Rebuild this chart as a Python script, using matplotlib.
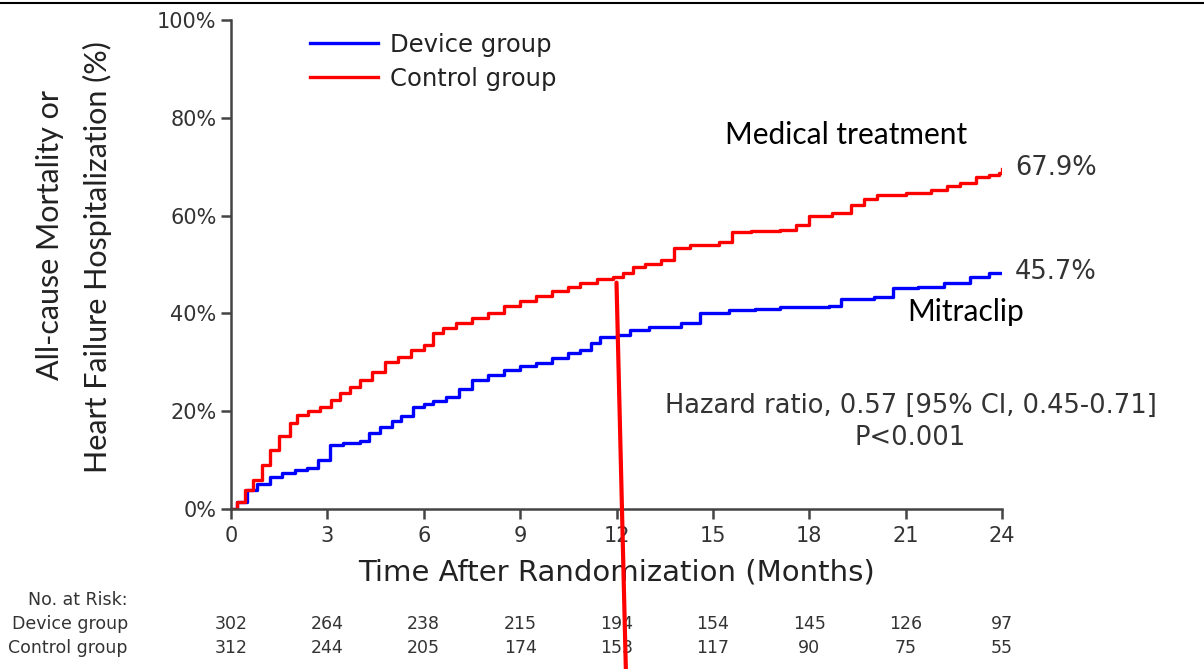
import matplotlib.pyplot as plt
import matplotlib.transforms as mtransforms
from matplotlib.lines import Line2D

# Kaplan-Meier style cumulative incidence (%)
control_t = [0, 0.2, 0.44, 0.7, 0.97, 1.21, 1.5, 1.84, 2.05, 2.4, 2.77, 3.1, 3.4, 3.7, 4.0,
             4.4, 4.8, 5.2, 5.6, 6.0, 6.3, 6.6, 7.0, 7.5, 8.0, 8.5, 9.0, 9.5, 10.0, 10.5,
             10.87, 11.4, 11.9, 12.2, 12.5, 12.9, 13.4, 13.8, 14.3, 15.2, 15.6, 16.2, 17.1,
             17.6, 18.0, 18.7, 19.3, 19.7, 20.1, 21.0, 21.8, 22.3, 22.7, 23.2, 23.6, 23.9, 24.0]
control_y = [0, 1.5, 3.9, 6, 9, 12, 15, 17.6, 19.2, 20, 20.9, 22.3, 23.7, 25, 26.4,
             28, 30, 31, 32.5, 33.5, 36, 37, 38, 39, 40, 41.5, 42.5, 43.5, 44.5, 45.3,
             46.2, 47, 47.4, 48.3, 49.5, 50.2, 51, 53.4, 54, 54.6, 56.6, 56.8, 57,
             58, 60, 60.5, 62.2, 63.4, 64.2, 64.6, 65.2, 66, 66.7, 67.9, 68.3, 68.7, 69.5]

device_t = [0, 0.2, 0.5, 0.8, 1.21, 1.6, 2.0, 2.37, 2.7, 3.08, 3.5, 4.0, 4.3, 4.64, 5.0,
            5.3, 5.67, 6.0, 6.3, 6.7, 7.1, 7.5, 8.0, 8.5, 9.0, 9.5, 10.0, 10.5, 10.87,
            11.2, 11.5, 12.0, 12.43, 13.0, 14.0, 14.6, 15.5, 16.3, 17.1, 18.0, 18.6, 19.0,
            20.0, 20.6, 21.4, 22.2, 23.0, 23.6, 24.0]
device_y = [0, 1.5, 3.9, 5.2, 6.5, 7.3, 7.9, 8.4, 10, 13, 13.5, 14, 15.5, 16.8, 18,
            19, 20.9, 21.5, 22, 22.9, 24.5, 26.4, 27.5, 28.4, 29.2, 29.8, 30.8, 32, 32.5,
            34, 35.2, 35.6, 36.6, 37.2, 38, 40, 40.7, 41, 41.3, 41.4, 41.5, 43,
            43.4, 45.2, 45.5, 46.2, 47.4, 48.3, 48.3]

risk_months = [0, 3, 6, 9, 12, 15, 18, 21, 24]
risk_device = [302, 264, 238, 215, 194, 154, 145, 126, 97]
risk_control = [312, 244, 205, 174, 153, 117, 90, 75, 55]

x_ticks = [0, 3, 6, 9, 12, 15, 18, 21, 24]
y_ticks = [0, 20, 40, 60, 80, 100]

fig = plt.figure(figsize=(12.04, 6.69), dpi=100)
ax = fig.add_axes([231 / 1204, 1 - 509 / 669, 771 / 1204, 489 / 669])

ax.plot(device_t, device_y, color='#0000ff', lw=2.4, drawstyle='steps-post', label='Device group')
ax.plot(control_t, control_y, color='#ff0000', lw=2.4, drawstyle='steps-post', label='Control group')

ax.set_xlim(0, 24)
ax.set_ylim(0, 100)
ax.set_xticks(x_ticks)
ax.set_yticks(y_ticks)
ax.set_yticklabels([f'{v}%' for v in y_ticks])
for s in ['top', 'right']:
    ax.spines[s].set_visible(False)
for s in ['left', 'bottom']:
    ax.spines[s].set_color('#444444')
    ax.spines[s].set_linewidth(1.8)
ax.tick_params(colors='#444444', width=1.8, length=7, labelsize=15, labelcolor='#333333')
ax.tick_params(axis='x', pad=5)
for lab in ax.get_xticklabels() + ax.get_yticklabels():
    lab.set_fontfamily('DejaVu Sans')
ax.set_xlabel('Time After Randomization (Months)', fontsize=21, family='DejaVu Sans',
              color='#222222', labelpad=9)

leg = ax.legend(loc='upper left', bbox_to_anchor=(310 / 1204, 1 - 33 / 669),
                bbox_transform=fig.transFigure, frameon=False,
                handlelength=2.8, handletextpad=0.5, labelspacing=0.4,
                borderpad=0, borderaxespad=0, prop={'family': 'DejaVu Sans', 'size': 17.5})
for t in leg.get_texts():
    t.set_color('#222222')

# y label, two lines
fig.text(50 / 1204, 1 - 235 / 669, 'All-cause Mortality or', rotation=90, ha='center',
         va='center', fontsize=22, family='Lato', color='#222222')
fig.text(97 / 1204, 1 - 257 / 669, 'Heart Failure Hospitalization (%)', rotation=90,
         ha='center', va='center', fontsize=22, family='Lato', color='#222222')

# end labels
ax.text(24.4, control_y[-1] + 0.2, '67.9%', fontsize=18.5, family='DejaVu Sans',
        color='#333333', va='center')
ax.text(24.4, device_y[-1] + 0.2, '45.7%', fontsize=18.5, family='DejaVu Sans',
        color='#333333', va='center')

fig.text(725 / 1204, 1 - 135 / 669, 'Medical treatment', fontsize=21.5, family='Lato',
         color='black', va='center')
fig.text(907 / 1204, 1 - 312 / 669, 'Mitraclip', fontsize=21.5, family='Lato',
         color='black', va='center')
fig.text(911 / 1204, 1 - 406 / 669, 'Hazard ratio, 0.57 [95% CI, 0.45-0.71]', fontsize=18.5,
         family='DejaVu Sans', color='#333333', va='center', ha='center')
fig.text(910 / 1204, 1 - 438 / 669, 'P<0.001', fontsize=18.5, family='DejaVu Sans',
         color='#333333', va='center', ha='center')

# number at risk table
blend = mtransforms.blended_transform_factory(ax.transData, fig.transFigure)
fig.text(128 / 1204, 1 - 600 / 669, 'No. at Risk:', ha='right', va='center',
         fontsize=12.5, family='DejaVu Sans', color='#333333')
fig.text(128 / 1204, 1 - 624 / 669, 'Device group', ha='right', va='center',
         fontsize=12.5, family='DejaVu Sans', color='#333333')
fig.text(128 / 1204, 1 - 648 / 669, 'Control group', ha='right', va='center',
         fontsize=12.5, family='DejaVu Sans', color='#333333')
for m, d, c in zip(risk_months, risk_device, risk_control):
    ax.text(m, 1 - 624 / 669, str(d), transform=blend, ha='center', va='center',
            fontsize=12.5, family='DejaVu Sans', color='#333333')
    ax.text(m, 1 - 648 / 669, str(c), transform=blend, ha='center', va='center',
            fontsize=12.5, family='DejaVu Sans', color='#333333')

# red marker line at 12 months
ax.annotate('', xy=(12, 46.3), xycoords='data', xytext=(626 / 1204, -0.01),
            textcoords='figure fraction',
            arrowprops=dict(arrowstyle='-', color='#ff0000', lw=3, shrinkA=0, shrinkB=0),
            annotation_clip=False)

# top frame line
fig.add_artist(Line2D([0, 1], [1 - 3 / 669, 1 - 3 / 669], transform=fig.transFigure,
                      color='black', lw=1.5))

fig.savefig('out.png', dpi=100)
